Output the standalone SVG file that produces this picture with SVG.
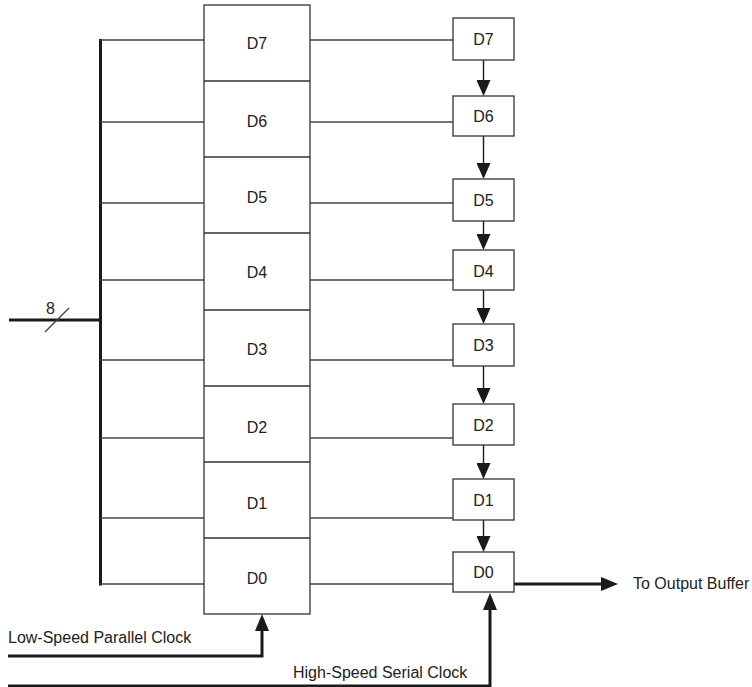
<svg xmlns="http://www.w3.org/2000/svg" width="752" height="687" viewBox="0 0 752 687">
<style>
  .box { fill: #ffffff; stroke: #333333; stroke-width: 1.3; }
  .div { stroke: #333333; stroke-width: 1.3; fill: none; }
  .wire { stroke: #444444; stroke-width: 1.4; fill: none; }
  .thick { stroke: #1a1a1a; stroke-width: 3; fill: none; }
  .shift { stroke: #1a1a1a; stroke-width: 1.4; fill: none; marker-end: url(#ah); }
  .clk { stroke: #1a1a1a; stroke-width: 3; fill: none; marker-end: url(#ahb); }
  text { font-family: "Liberation Sans", Arial, sans-serif; font-size: 16px; fill: #222222; }
  .c { text-anchor: middle; }
</style>
<defs>
  <marker id="ah" viewBox="0 0 16 14" refX="0" refY="7" markerWidth="16" markerHeight="14" markerUnits="userSpaceOnUse" orient="auto">
    <path d="M0,0 L16,7 L0,14 Z" fill="#1a1a1a"/>
  </marker>
  <marker id="ahb" viewBox="0 0 17 14" refX="0" refY="7" markerWidth="17" markerHeight="14" markerUnits="userSpaceOnUse" orient="auto">
    <path d="M0,0 L17,7 L0,14 Z" fill="#1a1a1a"/>
  </marker>
</defs>
<rect width="752" height="687" fill="#ffffff"/>

<g id="connectors">
  <!-- bus -->
  <line class="thick" x1="100.5" y1="39" x2="100.5" y2="585.5"/>
  <line class="thick" x1="9" y1="320" x2="100.5" y2="320"/>
  <line class="wire" x1="45" y1="332" x2="69" y2="308" stroke="#222"/>
  <!-- bus to parallel register -->
  <line class="wire" x1="100.5" y1="40" x2="204" y2="40"/>
  <line class="wire" x1="100.5" y1="122" x2="204" y2="122"/>
  <line class="wire" x1="100.5" y1="203" x2="204" y2="203"/>
  <line class="wire" x1="100.5" y1="280" x2="204" y2="280"/>
  <line class="wire" x1="100.5" y1="360" x2="204" y2="360"/>
  <line class="wire" x1="100.5" y1="438" x2="204" y2="438"/>
  <line class="wire" x1="100.5" y1="518" x2="204" y2="518"/>
  <line class="wire" x1="100.5" y1="584" x2="204" y2="584"/>
  <!-- parallel register to shift register -->
  <line class="wire" x1="310" y1="40" x2="453" y2="40"/>
  <line class="wire" x1="310" y1="122" x2="453" y2="122"/>
  <line class="wire" x1="310" y1="203" x2="453" y2="203"/>
  <line class="wire" x1="310" y1="280" x2="453" y2="280"/>
  <line class="wire" x1="310" y1="360" x2="453" y2="360"/>
  <line class="wire" x1="310" y1="438" x2="453" y2="438"/>
  <line class="wire" x1="310" y1="518" x2="453" y2="518"/>
  <line class="wire" x1="310" y1="584" x2="453" y2="584"/>
  <!-- shift chain -->
  <line class="shift" x1="483.5" y1="60" x2="483.5" y2="80"/>
  <line class="shift" x1="483.5" y1="136" x2="483.5" y2="163"/>
  <line class="shift" x1="483.5" y1="221" x2="483.5" y2="234"/>
  <line class="shift" x1="483.5" y1="290" x2="483.5" y2="308"/>
  <line class="shift" x1="483.5" y1="366" x2="483.5" y2="388"/>
  <line class="shift" x1="483.5" y1="445" x2="483.5" y2="463"/>
  <line class="shift" x1="483.5" y1="520" x2="483.5" y2="536"/>
  <!-- output -->
  <line class="clk" x1="514" y1="584" x2="601" y2="584"/>
  <!-- clocks -->
  <path class="clk" d="M8,656 H262 V631"/>
  <path class="clk" d="M8,686 H490 V610"/>
</g>

<text x="46" y="314">8</text>

<g id="parallel-register">
  <rect class="box" x="204" y="5" width="106" height="609"/>
  <line class="div" x1="204" y1="81" x2="310" y2="81"/>
  <line class="div" x1="204" y1="157" x2="310" y2="157"/>
  <line class="div" x1="204" y1="233" x2="310" y2="233"/>
  <line class="div" x1="204" y1="310" x2="310" y2="310"/>
  <line class="div" x1="204" y1="386" x2="310" y2="386"/>
  <line class="div" x1="204" y1="462" x2="310" y2="462"/>
  <line class="div" x1="204" y1="538" x2="310" y2="538"/>
  <text class="c" x="257" y="48.5">D7</text>
  <text class="c" x="257" y="126.5">D6</text>
  <text class="c" x="257" y="202.5">D5</text>
  <text class="c" x="257" y="277.5">D4</text>
  <text class="c" x="257" y="354.5">D3</text>
  <text class="c" x="257" y="432.5">D2</text>
  <text class="c" x="257" y="508.5">D1</text>
  <text class="c" x="257" y="583.5">D0</text>
</g>

<g id="s-d7"><rect class="box" x="453" y="18" width="61" height="42"/><text class="c" x="483.5" y="45">D7</text></g>
<g id="s-d6"><rect class="box" x="453" y="96" width="61" height="40"/><text class="c" x="483.5" y="122">D6</text></g>
<g id="s-d5"><rect class="box" x="453" y="179" width="61" height="42"/><text class="c" x="483.5" y="206">D5</text></g>
<g id="s-d4"><rect class="box" x="453" y="250" width="61" height="40"/><text class="c" x="483.5" y="277">D4</text></g>
<g id="s-d3"><rect class="box" x="453" y="324" width="61" height="42"/><text class="c" x="483.5" y="351">D3</text></g>
<g id="s-d2"><rect class="box" x="453" y="404" width="61" height="41"/><text class="c" x="483.5" y="430.5">D2</text></g>
<g id="s-d1"><rect class="box" x="453" y="479" width="61" height="41"/><text class="c" x="483.5" y="505.5">D1</text></g>
<g id="s-d0"><rect class="box" x="453" y="552" width="61" height="40"/><text class="c" x="483.5" y="578">D0</text></g>

<g id="labels">
  <text x="633" y="589">To Output Buffer</text>
  <text x="8" y="643">Low-Speed Parallel Clock</text>
  <text x="293" y="678">High-Speed Serial Clock</text>
</g>
</svg>
